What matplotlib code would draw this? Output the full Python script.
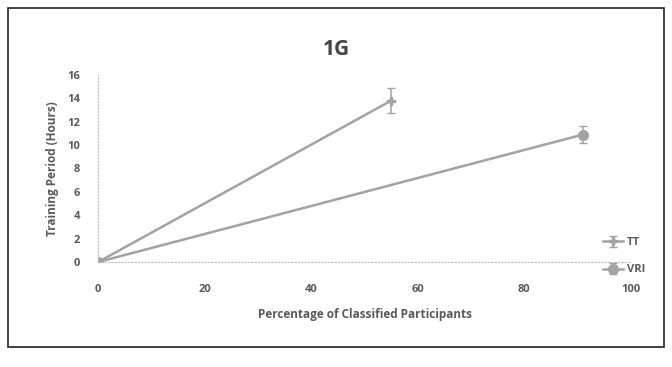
import matplotlib
matplotlib.use("Agg")
import matplotlib.pyplot as plt
from matplotlib.patches import Rectangle

# values
tt_x = [0, 55]
tt_y = [0, 13.8]
tt_err = [0, 1.1]

vri_x = [0, 91]
vri_y = [0, 10.9]
vri_err = [0, 0.7]

x_ticks = [0, 20, 40, 60, 80, 100]
y_ticks = [0, 2, 4, 6, 8, 10, 12, 14, 16]

plt.rcParams["font.family"] = ["Open Sans", "DejaVu Sans"]

fig = plt.figure(figsize=(6.72, 3.67), dpi=100)
ax = fig.add_axes([0.146, 0.286, 0.793, 0.51])

line_col = "#a3a3a3"
text_col = "#5a5a5a"

ax.errorbar(tt_x, tt_y, yerr=tt_err, color=line_col, lw=1.8, marker="P",
            ms=6, capsize=3, elinewidth=1.1, label="TT")
ax.errorbar(vri_x, vri_y, yerr=vri_err, color=line_col, lw=1.8, marker="o",
            ms=7, capsize=3, elinewidth=1.1, label="VRI")

ax.set_xlim(0, 100)
ax.set_ylim(0, 16)
ax.set_xticks(x_ticks)
ax.set_yticks(y_ticks)
ax.tick_params(length=0, labelsize=8, colors=text_col)
ax.tick_params(axis="x", pad=16)
ax.tick_params(axis="y", pad=13)
for lab in ax.get_xticklabels() + ax.get_yticklabels():
    lab.set_fontweight("bold")

for side in ["top", "right"]:
    ax.spines[side].set_visible(False)
for side in ["left", "bottom"]:
    ax.spines[side].set_color("#bbbbbb")
    ax.spines[side].set_linestyle((0, (1, 2)))
    ax.spines[side].set_linewidth(0.8)

ax.set_xlabel("Percentage of Classified Participants", fontsize=8.5,
              fontweight="bold", color=text_col, labelpad=9)
ax.set_ylabel("Training Period (Hours)", fontsize=8.5, fontweight="bold",
              color=text_col, labelpad=6)
fig.text(0.5, 0.865, "1G", ha="center", va="center", fontsize=15,
         fontweight="bold", color="#444444")

leg = ax.legend(loc="center left", bbox_to_anchor=(0.948, 0.03),
                frameon=False, fontsize=8, handlelength=1.8,
                labelspacing=1.45, handletextpad=0.3,
                borderpad=0, borderaxespad=0)
for t in leg.get_texts():
    t.set_color(text_col)
    t.set_fontweight("bold")

fig.patches.append(Rectangle((0.012, 0.055), 0.976, 0.922, transform=fig.transFigure,
                             fill=False, edgecolor="#222222", lw=1.2))

fig.savefig("out.png", dpi=100)
